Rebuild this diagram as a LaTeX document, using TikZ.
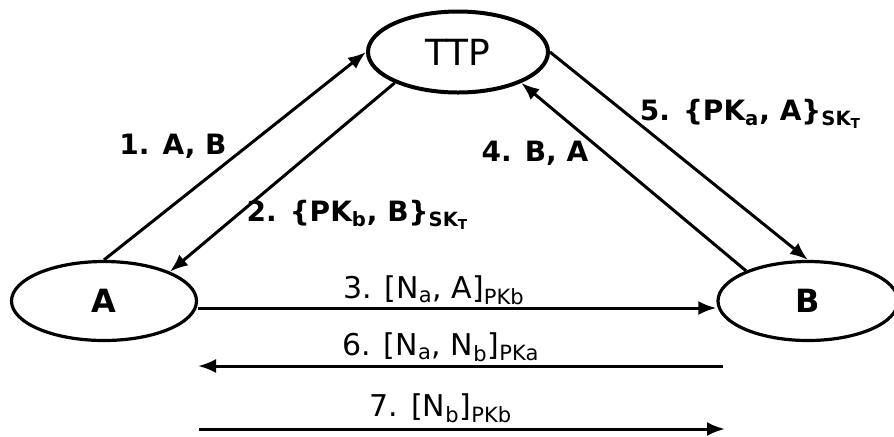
\documentclass[tikz,border=0pt]{standalone}
\usepackage{fontspec}
\setmainfont{DejaVu Sans}
\usetikzlibrary{shapes.geometric,arrows.meta}
\begin{document}
\begin{tikzpicture}[x=0.5pt,y=-0.5pt,
  party/.style={ellipse,draw,line width=1.6pt,inner sep=0pt},
  msg/.style={line width=1.5pt,-{Latex[length=9pt,width=7pt]}},
  lbl/.style={inner sep=0pt,font=\bfseries\fontsize{14}{16}\selectfont},
  lblr/.style={inner sep=0pt,font=\fontsize{15}{17}\selectfont}]
\useasboundingbox (0,0) rectangle (894,436);
\node[party,line width=2pt,minimum width=90pt,minimum height=40.5pt,font=\fontsize{18}{20}\selectfont] (TTP) at (458,52) {TTP};
\node[party,minimum width=92.5pt,minimum height=39.5pt,font=\bfseries\fontsize{16}{18}\selectfont] (A) at (104,301) {A};
\node[party,minimum width=90pt,minimum height=39.5pt,font=\bfseries\fontsize{16}{18}\selectfont] (B) at (808,301) {B};
\coordinate (s6) at (723,366);
\coordinate (e6) at (198,366);
\coordinate (s7) at (199,429);
\coordinate (e7) at (725,429);
\draw[msg] (A.north) -- (TTP.west);
\draw[msg] (TTP.206) -- (A.24);
\draw[msg] ([yshift=-3.5pt]A.east) -- ([yshift=-3.5pt]B.west);
\draw[msg] (B.154) -- (TTP.334);
\draw[msg] (TTP.east) -- (B.north);
\draw[msg] (s6) -- (e6);
\draw[msg] (s7) -- (e7);
\node[lbl] (l1) at (173,146) {1. A, B};
\node[lbl] (l2) at (358,215) {2. \{PK\textsubscript{b}, B\}\textsubscript{SK\textsubscript{T}}};
\node[lbl] (l4) at (535,153) {4. B, A};
\node[lbl] (l5) at (751,114) {5. \{PK\textsubscript{a}, A\}\textsubscript{SK\textsubscript{T}}};
\node[lblr] (l3) at (434,290) {3. [N\textsubscript{a}, A]\textsubscript{PKb}};
\node[lblr] (l6) at (441,347) {6. [N\textsubscript{a}, N\textsubscript{b}]\textsubscript{PKa}};
\node[lblr] (l7) at (441,408) {7. [N\textsubscript{b}]\textsubscript{PKb}};
\end{tikzpicture}
\end{document}
